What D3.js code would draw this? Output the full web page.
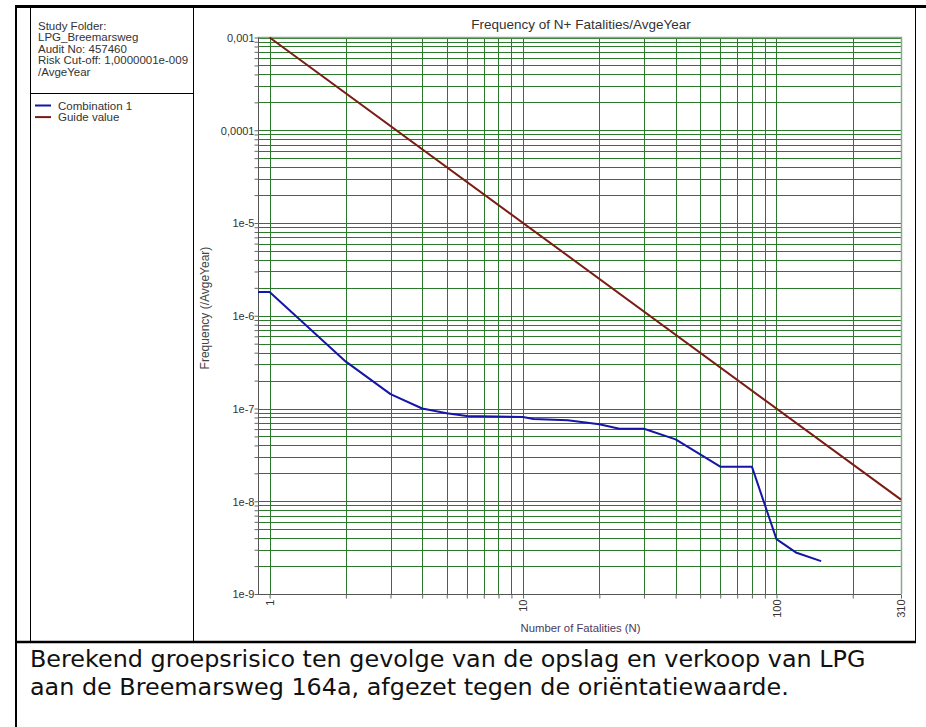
<!DOCTYPE html>
<html><head><meta charset="utf-8">
<script src="https://cdn.jsdelivr.net/npm/d3@7"></script>
<style>
html,body{margin:0;padding:0;background:#fff;}
svg{display:block;}
</style></head>
<body>
<svg id="c" width="926" height="727"></svg>
<script>
// ---- data ----
const comboN    = [0.9, 1, 2, 3, 4, 5, 6, 10, 11, 15, 20, 24, 30, 40, 60, 80, 100, 120, 150];
const comboF    = [1.8e-6, 1.8e-6, 3.2e-7, 1.43e-7, 1.0e-7, 8.9e-8, 8.3e-8, 8.1e-8, 7.7e-8, 7.45e-8, 6.75e-8, 6.05e-8, 6.05e-8, 4.65e-8, 2.36e-8, 2.36e-8, 3.9e-9, 2.78e-9, 2.26e-9];
const guideN    = [1, 310];
const guideF    = [1e-3, 1.04e-8];
const xTickVals = [1, 10, 100, 310];
const xTickText = ["1", "10", "100", "310"];
const yTickVals = [1e-3, 1e-4, 1e-5, 1e-6, 1e-7, 1e-8, 1e-9];
const yTickText = ["0,001", "0,0001", "1e-5", "1e-6", "1e-7", "1e-8", "1e-9"];
const infoLines = ["Study Folder:", "LPG_Breemarsweg", "Audit No: 457460", "Risk Cut-off: 1,0000001e-009", "/AvgeYear"];
const seriesNames = ["Combination 1", "Guide value"];
const captionLines = ["Berekend groepsrisico ten gevolge van de opslag en verkoop van LPG",
                      "aan de Breemarsweg 164a, afgezet tegen de oriëntatiewaarde."];

const svg = d3.select("#c");
const FONT = "'Liberation Sans', Arial, sans-serif";
const BLUE = "#1515a8", RED = "#7a1c14", GRID = "#2b7a2b";

// ---- frame ----
svg.append("line").attr("x1",15).attr("x2",926).attr("y1",6.5).attr("y2",6.5).attr("stroke","#000").attr("stroke-width",3);
svg.append("line").attr("x1",16).attr("x2",16).attr("y1",5).attr("y2",727).attr("stroke","#000").attr("stroke-width",2);
svg.append("line").attr("x1",915.5).attr("x2",915.5).attr("y1",5).attr("y2",642).attr("stroke","#000").attr("stroke-width",1);
svg.append("line").attr("x1",15).attr("x2",916).attr("y1",642).attr("y2",642).attr("stroke","#000").attr("stroke-width",2.5);
svg.append("line").attr("x1",30.5).attr("x2",30.5).attr("y1",8).attr("y2",641).attr("stroke","#000").attr("stroke-width",1);
svg.append("line").attr("x1",193.5).attr("x2",193.5).attr("y1",8).attr("y2",641).attr("stroke","#000").attr("stroke-width",1);
svg.append("line").attr("x1",30).attr("x2",194).attr("y1",93.5).attr("y2",93.5).attr("stroke","#000").attr("stroke-width",1);

// ---- info panel ----
svg.append("g").selectAll("text").data(infoLines).join("text")
  .attr("x",38).attr("y",(d,i)=>29.5+i*11.6)
  .attr("font-family",FONT).attr("font-size",11.5).attr("fill","#333").text(d=>d);

const legColors = [BLUE, RED];
const lg = svg.append("g").selectAll("g").data(seriesNames).join("g")
  .attr("transform",(d,i)=>`translate(0,${105.5+i*11.6})`);
lg.append("line").attr("x1",35).attr("x2",51).attr("y1",0).attr("y2",0)
  .attr("stroke",(d,i)=>legColors[i]).attr("stroke-width",2);
lg.append("text").attr("x",58).attr("y",4).attr("font-family",FONT).attr("font-size",11.5)
  .attr("fill","#333").text(d=>d);

// ---- chart ----
const L=258, R=901, T=37.5, B=594;
const x = d3.scaleLog().domain([0.9, 310]).range([L, R]);
const y = d3.scaleLog().domain([1e-9, 1e-3]).range([B, T]);

// minor values for grid
const xGrid = [];
for (let e=0;e<=2;e++) for (let m=1;m<=9;m++){const v=m*Math.pow(10,e); if(v<300) xGrid.push(v);}
const yGrid = [];
for (let e=-9;e<-3;e++) for (let m=1;m<=9;m++) yGrid.push(m*Math.pow(10,e));
yGrid.push(1e-3);

const g = svg.append("g");
g.append("g").selectAll("line").data(yGrid).join("line")
  .attr("x1",L).attr("x2",R).attr("y1",d=>Math.round(y(d))+0.5).attr("y2",d=>Math.round(y(d))+0.5)
  .attr("stroke",GRID).attr("stroke-width",1);
g.append("g").selectAll("line").data(xGrid).join("line")
  .attr("y1",T).attr("y2",B).attr("x1",d=>Math.round(x(d))+0.5).attr("x2",d=>Math.round(x(d))+0.5)
  .attr("stroke",GRID).attr("stroke-width",1);

// plot border (top/right)
g.append("path").attr("d",`M${L},${T}H${R+0.5}V${B}`).attr("fill","none").attr("stroke","#8aa88a").attr("stroke-width",1.5);

// y axis
const yAxis = d3.axisLeft(y).tickValues(yGrid).tickSize(4)
  .tickFormat(d=>{const i=yTickVals.findIndex(v=>Math.abs(v-d)/v<1e-6); return i>=0?yTickText[i]:"";});
const ya = svg.append("g").attr("transform",`translate(${L+0.5},0)`).call(yAxis);
ya.select(".domain").attr("stroke","#555").attr("d",`M0,${T}V${B}`);
ya.selectAll(".tick line").attr("stroke","#666");
ya.selectAll(".tick text").attr("font-family",FONT).attr("font-size",11).attr("fill","#333").attr("x",-4).attr("dy","0.35em");

// x axis
const xAxis = d3.axisBottom(x).tickValues(xGrid.concat([310])).tickSize(4)
  .tickFormat(d=>{const i=xTickVals.indexOf(d); return i>=0?xTickText[i]:"";});
const xa = svg.append("g").attr("transform",`translate(0,${B+0.5})`).call(xAxis);
xa.select(".domain").attr("stroke","#555").attr("d",`M${L},0H${R}`);
xa.selectAll(".tick line").attr("stroke","#666");
xa.selectAll(".tick text").attr("font-family",FONT).attr("font-size",11).attr("fill","#333")
  .attr("transform","rotate(-90)").attr("text-anchor","end").attr("x",-5).attr("y",0).attr("dy","0.35em");

// lines
const line = d3.line().x(d=>x(d[0])).y(d=>y(d[1]));
svg.append("path").datum(guideN.map((n,i)=>[n,guideF[i]])).attr("d",line)
  .attr("fill","none").attr("stroke",RED).attr("stroke-width",2);
svg.append("path").datum(comboN.map((n,i)=>[n,comboF[i]])).attr("d",line)
  .attr("fill","none").attr("stroke",BLUE).attr("stroke-width",2).attr("stroke-linejoin","round");

// titles
svg.append("text").attr("x",581).attr("y",29).attr("text-anchor","middle")
  .attr("font-family",FONT).attr("font-size",13.5).attr("fill","#333").text("Frequency of N+ Fatalities/AvgeYear");
svg.append("text").attr("transform",`translate(209,308) rotate(-90)`).attr("text-anchor","middle")
  .attr("font-family",FONT).attr("font-size",12).attr("fill","#444").text("Frequency (/AvgeYear)");
svg.append("text").attr("x",580.5).attr("y",632).attr("text-anchor","middle")
  .attr("font-family",FONT).attr("font-size",11.3).attr("fill","#4a3a5c").text("Number of Fatalities (N)");

// caption
const cap = svg.append("g").selectAll("text").data(captionLines).join("text")
  .attr("x",30).attr("y",(d,i)=>667+i*28)
  .attr("font-family","'DejaVu Sans', Verdana, sans-serif").attr("font-size",20).attr("fill","#111").text(d=>d);
// fit first line to its width in the reference
const w0 = cap.nodes()[0].getComputedTextLength();
const fs = 20*836/w0;
cap.attr("font-size",fs);
</script>
</body></html>
